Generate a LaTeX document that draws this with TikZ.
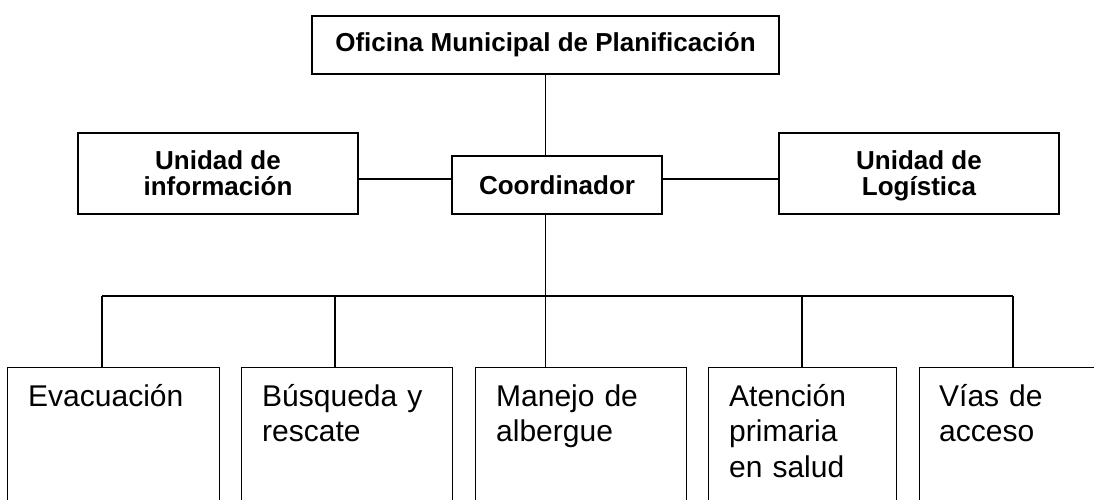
\documentclass[tikz,border=0pt]{standalone}
\usepackage{fontspec}
\setmainfont{Liberation Sans}
\usetikzlibrary{positioning}
\tikzset{
  upbox/.style={draw, line width=1.3pt, align=center, inner sep=0pt,
    font=\fontsize{26}{26}\selectfont\bfseries},
  twoline/.style={upbox, text depth=0pt, minimum width=280pt, minimum height=81pt},
  lowbox/.style={draw, line width=1.3pt, anchor=north west, inner sep=0pt,
    minimum height=160pt},
  lowtext/.style={anchor=base west, align=left, inner sep=0pt, text width=180pt,
    font=\fontsize{30}{35.5}\selectfont},
  link/.style={line width=1.3pt}
}
\begin{document}
\begin{tikzpicture}[x=1pt, y=-1pt]
  \path[use as bounding box, clip] (0,0) rectangle (1094,500);

  % Upper boxes
  \node[upbox, minimum width=467pt, minimum height=58pt] (ofi) at (545.5,45) {Oficina Municipal de Planificación};
  \node[upbox, minimum width=210pt, minimum height=58pt] (coord) at (557,185) {Coordinador};
  \node[twoline] (info) at (218,173.5) {Unidad de\\información};
  \node[twoline] (logi) at (919,173.5) {Unidad de\\Logística};

  % Lower boxes
  \node[lowbox, minimum width=212pt] (evac) at (7,367) {};
  \node[lowbox, minimum width=211pt] (busq) at (241,367) {};
  \node[lowbox, minimum width=211pt] (alb) at (475,367) {};
  \node[lowbox, minimum width=188pt] (salud) at (708,367) {};
  \node[lowbox, minimum width=211pt] (vias) at (919,367) {};

  \node[lowtext] (tevac) at ([shift={(21,39)}]evac.north west) {Evacuación};
  \node[lowtext] (tbusq) at ([shift={(21,39)}]busq.north west) {Búsqueda y\\rescate};
  \node[lowtext] (talb) at ([shift={(21,39)}]alb.north west) {Manejo de\\albergue};
  \node[lowtext] (tsalud) at ([shift={(21,39)}]salud.north west) {Atención\\primaria\\en salud};
  \node[lowtext] (tvias) at ([shift={(20,39)}]vias.north west) {Vías de\\acceso};

  % Connectors
  \coordinate (bus) at (545.5,296);
  \draw[link] (ofi.south) -- (ofi.south |- coord.north);
  \draw[link] (info.east |- 0,179) -- (coord.west |- 0,179);
  \draw[link] (coord.east |- 0,179) -- (logi.west |- 0,179);
  \draw[link] (ofi.south |- coord.south) -- (bus);

  \coordinate (d1) at (102,296);
  \coordinate (d2) at (335,296);
  \coordinate (d3) at (545.5,296);
  \coordinate (d4) at (802,296);
  \coordinate (d5) at (1013,296);
  \draw[link] (d1) -- (d5);
  \draw[link] (d1) -- (d1 |- evac.north);
  \draw[link] (d2) -- (d2 |- busq.north);
  \draw[link] (d3) -- (d3 |- alb.north);
  \draw[link] (d4) -- (d4 |- salud.north);
  \draw[link] (d5) -- (d5 |- vias.north);
\end{tikzpicture}
\end{document}
